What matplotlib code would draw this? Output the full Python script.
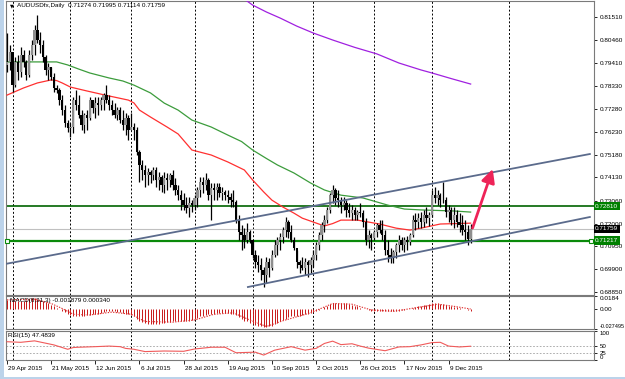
import numpy as np
import matplotlib
matplotlib.use('Agg')
import matplotlib.pyplot as plt
from matplotlib.patches import Rectangle
import matplotlib.transforms as mtransforms

plt.rcParams['font.family'] = ['Liberation Sans', 'DejaVu Sans']

# daily AUDUSD bars, prices in pips (1 pip = 0.0001)
high_p = [8078, 8023, 7944, 7967, 7977, 8013, 8000, 7953, 8000, 8046,
          8115, 8161, 8083, 8046, 7977, 7940, 7921, 7894, 7838, 7825,
          7792, 7746, 7677, 7663, 7783, 7815, 7792, 7723, 7709, 7723,
          7783, 7769, 7783, 7783, 7783, 7801, 7838, 7792, 7769, 7755,
          7737, 7737, 7723, 7709, 7700, 7709, 7663, 7645, 7539, 7493,
          7470, 7456, 7447, 7460, 7460, 7437, 7424, 7437, 7433, 7433,
          7447, 7410, 7378, 7354, 7341, 7322, 7322, 7308, 7331, 7368,
          7414, 7414, 7433, 7410, 7387, 7387, 7387, 7387, 7368, 7354,
          7354, 7341, 7354, 7308, 7239, 7193, 7179, 7202, 7170, 7124,
          7078, 7055, 7041, 6999, 7046, 7041, 7078, 7124, 7138, 7156,
          7184, 7230, 7216, 7193, 7138, 7078, 7032, 7046, 7041, 7032,
          7046, 7078, 7115, 7161, 7207, 7239, 7276, 7341, 7378, 7364,
          7354, 7322, 7322, 7308, 7295, 7285, 7276, 7262, 7295, 7262,
          7225, 7170, 7156, 7170, 7202, 7216, 7216, 7170, 7124, 7087,
          7078, 7110, 7147, 7138, 7138, 7142, 7156, 7239, 7248, 7248,
          7253, 7262, 7276, 7253, 7354, 7368, 7354, 7341, 7391, 7322,
          7285, 7276, 7276, 7262, 7248, 7239, 7216, 7193, 7200]
low_p = [7898, 7908, 7806, 7829, 7861, 7875, 7921, 7861, 7875, 7953,
         7977, 8032, 7986, 7944, 7884, 7861, 7861, 7806, 7801, 7746,
         7700, 7645, 7622, 7599, 7617, 7723, 7686, 7631, 7617, 7631,
         7677, 7709, 7686, 7700, 7723, 7723, 7755, 7723, 7700, 7686,
         7677, 7663, 7631, 7608, 7585, 7631, 7585, 7516, 7391, 7401,
         7368, 7378, 7387, 7401, 7368, 7354, 7345, 7341, 7354, 7368,
         7354, 7331, 7308, 7262, 7262, 7248, 7230, 7253, 7262, 7276,
         7322, 7341, 7354, 7308, 7216, 7308, 7308, 7322, 7308, 7308,
         7295, 7276, 7276, 7202, 7124, 7078, 7087, 7110, 7110, 7041,
         6995, 6977, 6940, 6907, 6926, 6954, 6986, 7046, 7055, 7078,
         7110, 7138, 7133, 7115, 7078, 6995, 6972, 6986, 6963, 6954,
         6972, 6999, 7032, 7078, 7124, 7161, 7202, 7248, 7295, 7285,
         7276, 7248, 7262, 7230, 7230, 7216, 7216, 7216, 7230, 7184,
         7101, 7087, 7078, 7124, 7138, 7156, 7124, 7055, 7023, 7018,
         7018, 7041, 7069, 7078, 7069, 7078, 7101, 7138, 7170, 7179,
         7179, 7184, 7202, 7189, 7230, 7295, 7285, 7276, 7295, 7230,
         7207, 7193, 7179, 7184, 7161, 7147, 7124, 7101, 7111]
close_p = [7944, 7990, 7838, 7944, 7898, 7977, 7944, 7884, 7977, 8023,
           8092, 8046, 8023, 7967, 7908, 7921, 7875, 7825, 7815, 7769,
           7723, 7663, 7640, 7645, 7769, 7746, 7700, 7654, 7700, 7686,
           7769, 7732, 7755, 7746, 7769, 7792, 7769, 7746, 7723, 7700,
           7723, 7677, 7654, 7686, 7631, 7645, 7631, 7530, 7470, 7447,
           7424, 7437, 7424, 7447, 7401, 7414, 7378, 7410, 7401, 7424,
           7378, 7354, 7331, 7308, 7285, 7272, 7295, 7285, 7318, 7354,
           7391, 7378, 7401, 7331, 7364, 7354, 7368, 7341, 7345, 7331,
           7322, 7308, 7299, 7216, 7161, 7147, 7124, 7161, 7124, 7055,
           7023, 7009, 6986, 6963, 7023, 6995, 7055, 7101, 7124, 7138,
           7170, 7207, 7161, 7124, 7087, 7023, 7009, 6995, 7023, 7009,
           7032, 7055, 7101, 7147, 7193, 7216, 7262, 7331, 7354, 7318,
           7308, 7285, 7295, 7262, 7248, 7262, 7239, 7253, 7248, 7207,
           7124, 7147, 7133, 7161, 7193, 7170, 7147, 7078, 7055, 7041,
           7069, 7101, 7124, 7101, 7124, 7115, 7147, 7216, 7207, 7225,
           7207, 7239, 7225, 7239, 7331, 7318, 7331, 7308, 7308, 7253,
           7262, 7216, 7239, 7207, 7193, 7170, 7161, 7127, 7176]
open_first = 7930

# moving averages (bar index, pips)
ma_red_i = [0, 6, 11, 16, 18, 20, 23, 29, 37, 44, 46, 48, 52, 55, 58, 62, 67, 74, 80, 86, 89, 93,
            96, 100, 104, 107, 111, 115, 118, 121, 127, 135, 141, 146, 150, 157, 168]
ma_red_p = [7792, 7825, 7848, 7862, 7859, 7848, 7829, 7811, 7788, 7769, 7756, 7723, 7691, 7668, 7645, 7613, 7539,
            7516, 7484, 7447, 7401, 7346, 7308, 7276, 7248, 7225, 7207, 7189, 7200, 7216, 7216, 7198, 7179,
            7170, 7179, 7198, 7202]
ma_green_i = [0, 10, 18, 22, 26, 30, 37, 42, 46, 49, 52, 57, 62, 67, 74, 80, 85, 89, 94, 98, 104, 110, 115,
              121, 129, 138, 144, 150, 162, 168]
ma_green_p = [7945, 7945, 7945, 7931, 7912, 7894, 7871, 7857, 7838, 7820, 7802, 7755, 7723, 7677, 7645, 7608,
              7578, 7539, 7500, 7470, 7433, 7387, 7355, 7331, 7318, 7285, 7267, 7263, 7258, 7253]
ma_purple_i = [85.5, 89, 94, 99, 105, 111, 118, 126, 134, 142, 150, 154, 161, 168]
ma_purple_p = [8239, 8207, 8175, 8147, 8110, 8078, 8046, 8012, 7982, 7940, 7908, 7894, 7868, 7843]

# MACD histogram and signal, units of 0.001
macd_hist = [13, 13, 12, 12, 12, 12, 12, 13, 14, 15, 15, 14, 13, 12, 10, 8,
             6, 4, 2, 0, -2,
             -4, -6, -8, -9, -9, -9, -9, -9, -8, -8, -7, -6, -6, -5, -4, -3, -3, -3, -3, -4, -4, -5, -6, -7, -8,
             -10, -13, -16, -18, -19, -20, -20, -20, -20, -20, -19, -19, -18, -18, -17, -17, -17, -17, -17, -16, -16, -15, -14, -12, -10,
             -9, -8, -7, -6, -6, -5, -5, -5, -5, -5, -6, -6,
             -8, -11, -14, -16, -17, -19, -21, -22, -23, -24, -25, -25, -24, -23, -21,
             -19, -17, -15, -13, -11, -10, -9, -9, -9, -8, -7, -6, -5, -4,
             -3, -1, 1, 3,
             5, 7, 8, 9, 9, 9, 8, 8, 7, 6, 5, 4,
             2, 1, 0, -1, -2, -3, -3, -3, -3, -3, -3, -3, -3, -2, -2, -1, -1, 0,
             1, 2, 3, 4, 5, 6, 6,
             7, 8, 8, 8, 7, 7, 6, 5,
             4, 3, 3, 2, 1, 0, -1, -1.879]
sig_i = [0, 10, 16, 20, 24, 30, 38, 45, 50, 60, 68, 75, 82, 88, 94, 100, 110, 118, 125, 132, 140, 148, 156, 162, 168]
sig_v = [13, 14, 8, 1, -7, -8, -4, -7, -17, -18, -15, -7, -5, -15, -24, -16, -5, 8, 7, -1, -3, 2, 7, 4, 0.34]

# RSI(15)
rsi_i = [0, 5, 10, 14, 17, 22, 24, 26, 32, 37, 41, 43, 46, 50, 57, 64, 68, 74, 79, 83, 90, 93, 97, 103,
         108, 112, 115, 118, 121, 125, 128, 131, 137, 142, 146, 150, 154, 157, 160, 164, 168]
rsi_v = [63, 61, 66, 58, 52, 37, 43, 44, 46, 48, 46, 40, 37, 29, 31, 30, 38, 44, 44, 25, 27, 17, 34, 46,
         34, 40, 57, 65, 53, 56, 48, 41, 32, 45, 46, 52, 60, 61, 48, 45, 47.4839]

date_labels = ['29 Apr 2015', '21 May 2015', '12 Jun 2015', '6 Jul 2015', '28 Jul 2015', '19 Aug 2015',
               '10 Sep 2015', '2 Oct 2015', '26 Oct 2015', '17 Nov 2015', '9 Dec 2015']
date_pos = [0, 16, 32, 48, 64, 80, 96, 112, 128, 144, 160]
month_starts = [2, 23, 45, 68, 89, 111, 133, 154, 182]

price_ticks = [0.81510, 0.80460, 0.79410, 0.78330, 0.77280, 0.76230, 0.75180,
               0.74130, 0.73060, 0.72000, 0.70950, 0.69900, 0.68850]
level_hi = 0.72810
level_lo = 0.71217
last_price = 0.71759

# trend lines (bar index, price)
channel_top = [(-0.7, 0.70137), (211.2, 0.75206)]
channel_low = [(87.3, 0.69077), (211.2, 0.72303)]
arrow_from = (168.7, 0.71796)
arrow_to = (176.0, 0.74515)

hi = np.array(high_p) / 1e4
lo = np.array(low_p) / 1e4
cl = np.array(close_p) / 1e4
op = np.r_[open_first, close_p[:-1]] / 1e4
idx = np.arange(len(cl))

W, H = 625, 379
FS = 4.6
fig = plt.figure(figsize=(W / 100, H / 100), dpi=100)
fig.patch.set_facecolor('white')

def rect(top, bottom):
    return [6 / W, 1 - bottom / H, 588 / W, (bottom - top) / H]

ax = fig.add_axes(rect(1, 295))
ax_m = fig.add_axes(rect(296, 329))
ax_r = fig.add_axes(rect(331, 360))

xmin, xmax = -0.36, 212.7
for a in (ax, ax_m, ax_r):
    a.set_xlim(xmin, xmax)
    a.set_facecolor('white')
    for s in a.spines.values():
        s.set_color('#7a7a7a')
        s.set_linewidth(0.8)
    a.yaxis.tick_right()
    a.tick_params(axis='y', direction='out', length=2.5, width=0.6, labelsize=FS, pad=1.5, colors='black')
    a.tick_params(axis='x', bottom=False, labelbottom=False)
    for m in month_starts:
        a.axvline(m, color='black', ls=(0, (2, 2)), lw=0.7, zorder=1)

# main price panel
ax.set_ylim(0.68709, 0.82257)
ax.set_yticks(price_ticks)
ax.set_yticklabels(['%.5f' % t for t in price_ticks])

ax.axhline(last_price, color='#c0c0c0', lw=0.8, zorder=2)
ax.axhline(level_hi, color='#006400', lw=1.2, zorder=2)
ax.axhline(level_lo, color='#0a8a0a', lw=1.6, zorder=2)
ax.plot([0.1, 211.6], [level_lo, level_lo], ls='none', marker='s', ms=2.6, mfc='white', mec='#0a8a0a',
        mew=0.8, zorder=6, clip_on=False)

ax.plot(np.array(ma_red_i), np.array(ma_red_p) / 1e4, color='#ff3030', lw=0.9, zorder=3)
ax.plot(np.array(ma_green_i), np.array(ma_green_p) / 1e4, color='#3c9c3c', lw=0.9, zorder=3)
ax.plot(np.array(ma_purple_i), np.array(ma_purple_p) / 1e4, color='#a020e0', lw=0.9, zorder=3)

ax.vlines(idx, lo, hi, color='black', lw=0.9, zorder=4)
up = cl >= op
ax.bar(idx[up], (cl - op)[up], bottom=op[up], width=0.85, color='#8e8e8e', edgecolor='none', zorder=5)
ax.bar(idx[~up], (cl - op)[~up], bottom=op[~up], width=0.85, color='black', edgecolor='none', zorder=5)

for line in (channel_top, channel_low):
    xs, ys = zip(*line)
    ax.plot(xs, ys, color='#5b6b8c', lw=1.3, zorder=6)

ax.annotate('', xy=arrow_to, xytext=arrow_from,
            arrowprops=dict(arrowstyle='-|>,head_length=0.8,head_width=0.4', color='#ee2458', lw=2.0,
                            shrinkA=0, shrinkB=0),
            zorder=7)

btrans = mtransforms.blended_transform_factory(ax.transAxes, ax.transData)
for val, fc in ((level_hi, '#008000'), (last_price, 'black'), (level_lo, '#008000')):
    ax.text(1.002, val, '%.5f' % val, transform=btrans, ha='left', va='center', fontsize=FS, color='white',
            bbox=dict(boxstyle='square,pad=0.25', fc=fc, ec='none'), zorder=8, clip_on=False)

# MACD panel
hist = np.array(macd_hist) / 1e3
ax_m.set_ylim(-0.027495, 0.0184)
ax_m.vlines(idx, 0, hist, color='#c81818', lw=0.7, zorder=3)
ax_m.plot(sig_i, np.array(sig_v) / 1e3, color='#e03030', lw=0.8, ls=(0, (1.2, 1.2)), zorder=4)
ax_m.set_yticks([0.0184, 0.0, -0.027495])
ax_m.set_yticklabels(['0.0184', '0.00', '-0.027495'])
labs = ax_m.get_yticklabels()
labs[0].set_va('top')
labs[2].set_va('bottom')
labs[2].set_fontsize(4.0)
ax_m.text(1, 0.93, 'MACD(8,31,3) -0.001879 0.000340', transform=ax_m.get_xaxis_transform(), fontsize=FS,
          va='top', ha='left', zorder=5)

# RSI panel
ax_r.set_ylim(0, 100)
ax_r.axhline(50, color='#a0a0a0', lw=0.6, ls=(0, (2, 2)))
ax_r.axhline(25, color='#a0a0a0', lw=0.6, ls=(0, (2, 2)))
ax_r.plot(rsi_i, rsi_v, color='#f05a5a', lw=0.8, zorder=3)
ax_r.set_yticks([100, 50, 25, 0])
ax_r.set_yticklabels(['100', '50', '25', '0'], fontsize=4.4)
rl = ax_r.get_yticklabels()
rl[0].set_va('top')
rl[3].set_va('bottom')
ax_r.text(0.5, 0.93, 'RSI(15) 47.4839', transform=ax_r.get_xaxis_transform(), fontsize=FS, va='top', ha='left')

ax_r.set_xticks(date_pos)
ax_r.tick_params(axis='x', bottom=True, direction='out', length=3, width=0.6, color='black', labelbottom=False)
for p, lab in zip(date_pos, date_labels):
    ax_r.text(p + 0.4, -0.2, lab, transform=ax_r.get_xaxis_transform(), ha='left', va='top', fontsize=FS)

# header and window frame
fig.text(17 / W, 1 - 6 / H, 'AUDUSDfx,Daily  0.71274 0.71995 0.71114 0.71759', fontsize=FS, va='center', ha='left')
fig.text(11.5 / W, 1 - 6 / H, '\u25bc', fontsize=3.5, va='center', ha='center', family='DejaVu Sans')
fig.patches.append(Rectangle((0, 0), 4 / W, 1, transform=fig.transFigure, fc='#bcd3ea', ec='none', zorder=0))
fig.patches.append(Rectangle((0, 0), 1, 2.5 / H, transform=fig.transFigure, fc='#bcd3ea', ec='none', zorder=0))

fig.savefig('out.png', dpi=100, facecolor='white')
